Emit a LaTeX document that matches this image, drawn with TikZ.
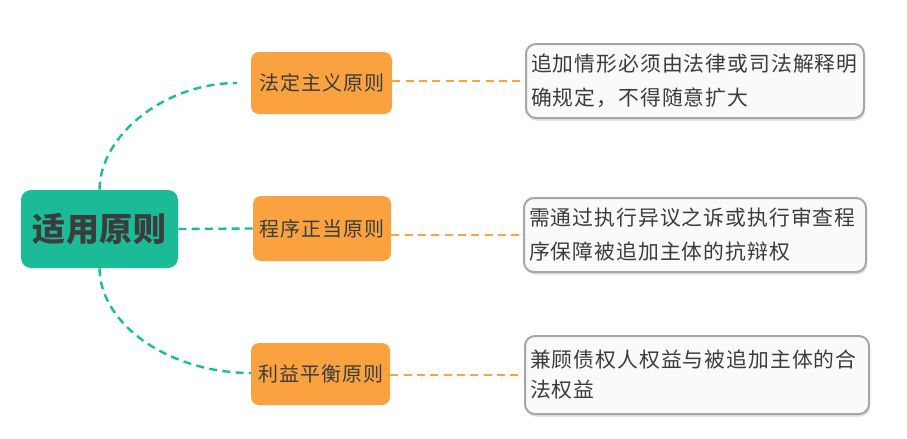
\documentclass[tikz,border=0pt]{standalone}
\usepackage{fontspec}
\setmainfont{Noto Sans CJK SC}
\usetikzlibrary{shadows}
\definecolor{rootc}{HTML}{1CBB98}
\definecolor{branchc}{HTML}{F9A23F}
\definecolor{tealline}{HTML}{1ABC9C}
\definecolor{orangeline}{HTML}{F9A443}
\definecolor{leaffill}{HTML}{FAFAFA}
\definecolor{leafdraw}{HTML}{A6A6A6}
\definecolor{txt}{HTML}{3C3C3C}
\tikzset{
  rootbox/.style={fill=rootc, rounded corners=7.5pt, inner sep=0pt, text=txt,
    font=\fontsize{24.75pt}{30pt}\selectfont\bfseries\addfontfeatures{LetterSpace=1.5}},
  branchbox/.style={fill=branchc, rounded corners=6pt, inner sep=0pt, text=txt,
    font=\fontsize{15pt}{18pt}\selectfont\addfontfeatures{LetterSpace=5}},
  leafbox/.style={fill=leaffill, draw=leafdraw, line width=1.5pt, rounded corners=7.5pt,
    inner xsep=3.75pt, inner ysep=0pt, align=left, text=txt,
    drop shadow={shadow xshift=0.8pt, shadow yshift=-2pt, opacity=0.12, fill=black}},
  tealdash/.style={draw=tealline, line width=1.8pt, dash pattern=on 6pt off 4pt},
  orangedash/.style={draw=orangeline, line width=1.8pt, dash pattern=on 6pt off 4pt},
}
\begin{document}
\begin{tikzpicture}[x=0.75pt,y=-0.75pt]
\useasboundingbox (0,0) rectangle (907,439);
\node[rootbox, minimum width=117.75pt, minimum height=58.5pt] (root) at (99.5,229) {适用原则};
\node[branchbox, minimum width=105.75pt, minimum height=46.5pt] (b1) at (321.5,83) {法定主义原则};
\node[branchbox, minimum width=103.5pt, minimum height=48.75pt] (b2) at (322,228.5) {程序正当原则};
\node[branchbox, minimum width=104.25pt, minimum height=46.5pt] (b3) at (320.5,374) {利益平衡原则};
\node[leafbox, text width=246pt, minimum height=55.5pt,
  font=\fontsize{15.6pt}{25.5pt}\selectfont\addfontfeatures{LetterSpace=5}] (l1) at (695,81)
  {追加情形必须由法律或司法解释明\\确规定，不得随意扩大};
\node[leafbox, text width=249pt, minimum height=55.5pt,
  font=\fontsize{15.6pt}{25.5pt}\selectfont\addfontfeatures{LetterSpace=5}] (l2) at (695,235)
  {需通过执行异议之诉或执行审查程\\序保障被追加主体的抗辩权};
\node[leafbox, text width=250.5pt, minimum height=58.5pt,
  font=\fontsize{15.6pt}{22.5pt}\selectfont\addfontfeatures{LetterSpace=5}] (l3) at (697,375)
  {兼顾债权人权益与被追加主体的合\\法权益};
\coordinate (t1) at (237,83);
\coordinate (t3) at (251,373);
\draw[tealdash] (root.north) .. controls (100,135) and (165,83) .. (t1);
\draw[tealdash] (root.south) .. controls (100,325) and (170,373) .. (t3);
\draw[tealdash] (root.east) -- (b2.west);
\draw[orangedash] (b1.east |- l1.west) -- (l1.west);
\draw[orangedash] (b2.east |- l2.west) -- (l2.west);
\draw[orangedash] (b3.east |- l3.west) -- (l3.west);
\end{tikzpicture}
\end{document}
